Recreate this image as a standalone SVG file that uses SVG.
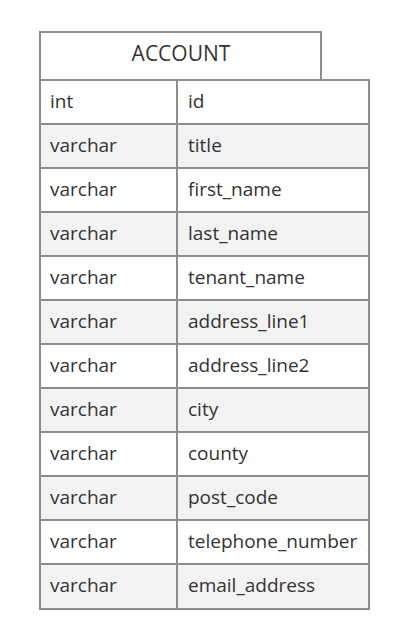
<svg xmlns="http://www.w3.org/2000/svg" width="418" height="632" viewBox="0 0 418 632">
  <style>
    .box { stroke: #8c8c8c; stroke-width: 2; }
    .odd { fill: #ffffff; }
    .even { fill: #f2f2f2; }
    .t { font-family: "Open Sans", "DejaVu Sans", sans-serif; font-size: 19px; fill: #333333; dominant-baseline: central; }
    .title { font-size: 21px; text-anchor: middle; }
  </style>
  <rect width="418" height="632" fill="#ffffff"/>
  <g id="entity-ACCOUNT">
    <rect class="box odd" x="40" y="32" width="281" height="48"/>
    <text class="t title" x="181" y="53">ACCOUNT</text>
    <g id="rows">
      <rect class="box odd" x="40" y="80" width="137" height="44"/><rect class="box odd" x="177" y="80" width="192" height="44"/>
      <text class="t" x="50" y="101">int</text><text class="t" x="188" y="101">id</text>
      <rect class="box even" x="40" y="124" width="137" height="44"/><rect class="box even" x="177" y="124" width="192" height="44"/>
      <text class="t" x="50" y="145">varchar</text><text class="t" x="188" y="145">title</text>
      <rect class="box odd" x="40" y="168" width="137" height="44"/><rect class="box odd" x="177" y="168" width="192" height="44"/>
      <text class="t" x="50" y="189">varchar</text><text class="t" x="188" y="189">first_name</text>
      <rect class="box even" x="40" y="212" width="137" height="44"/><rect class="box even" x="177" y="212" width="192" height="44"/>
      <text class="t" x="50" y="233">varchar</text><text class="t" x="188" y="233">last_name</text>
      <rect class="box odd" x="40" y="256" width="137" height="44"/><rect class="box odd" x="177" y="256" width="192" height="44"/>
      <text class="t" x="50" y="277">varchar</text><text class="t" x="188" y="277">tenant_name</text>
      <rect class="box even" x="40" y="300" width="137" height="44"/><rect class="box even" x="177" y="300" width="192" height="44"/>
      <text class="t" x="50" y="321">varchar</text><text class="t" x="188" y="321">address_line1</text>
      <rect class="box odd" x="40" y="344" width="137" height="44"/><rect class="box odd" x="177" y="344" width="192" height="44"/>
      <text class="t" x="50" y="365">varchar</text><text class="t" x="188" y="365">address_line2</text>
      <rect class="box even" x="40" y="388" width="137" height="44"/><rect class="box even" x="177" y="388" width="192" height="44"/>
      <text class="t" x="50" y="409">varchar</text><text class="t" x="188" y="409">city</text>
      <rect class="box odd" x="40" y="432" width="137" height="44"/><rect class="box odd" x="177" y="432" width="192" height="44"/>
      <text class="t" x="50" y="453">varchar</text><text class="t" x="188" y="453">county</text>
      <rect class="box even" x="40" y="476" width="137" height="44"/><rect class="box even" x="177" y="476" width="192" height="44"/>
      <text class="t" x="50" y="497">varchar</text><text class="t" x="188" y="497">post_code</text>
      <rect class="box odd" x="40" y="520" width="137" height="44"/><rect class="box odd" x="177" y="520" width="192" height="44"/>
      <text class="t" x="50" y="541">varchar</text><text class="t" x="188" y="541">telephone_number</text>
      <rect class="box even" x="40" y="564" width="137" height="45"/><rect class="box even" x="177" y="564" width="192" height="45"/>
      <text class="t" x="50" y="585">varchar</text><text class="t" x="188" y="585">email_address</text>
    </g>
  </g>
  <g id="connectors"/>
</svg>
